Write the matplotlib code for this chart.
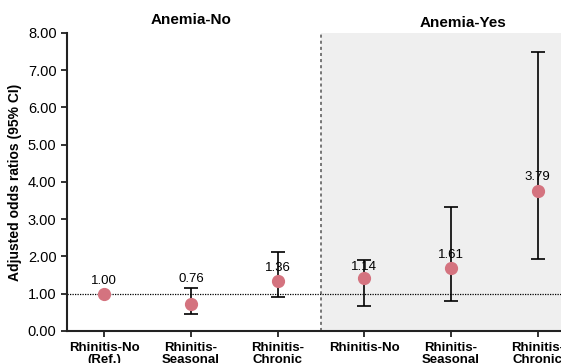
import numpy as np
import matplotlib.pyplot as plt

# Data
categories = ['Rhinitis-No\n(Ref.)', 'Rhinitis-\nSeasonal', 'Rhinitis-\nChronic',
              'Rhinitis-No', 'Rhinitis-\nSeasonal', 'Rhinitis-\nChronic']
point_est = [1.00, 0.73, 1.34, 1.41, 1.68, 3.77]
ci_low = [1.00, 0.46, 0.90, 0.67, 0.80, 1.92]
ci_high = [1.00, 1.16, 2.12, 1.90, 3.32, 7.49]
value_labels = ['1.00', '0.76', '1.36', '1.14', '1.61', '3.79']
group_titles = ['Anemia-No', 'Anemia-Yes']

plt.rcParams['font.family'] = ['Liberation Sans', 'DejaVu Sans']

fig = plt.figure(figsize=(5.61, 3.63), dpi=100)
ax = fig.add_axes([0.1194, 0.0882, 0.8806, 0.8209])

x = np.arange(len(categories))
pe = np.array(point_est)
yerr = np.array([pe - np.array(ci_low), np.array(ci_high) - pe])

# Shaded Anemia-Yes region and separator
ax.axvspan(2.5, 6, color='#efefef', zorder=0)
ax.axvline(2.5, color='#555555', linestyle=(0, (2, 2)), linewidth=1.1, zorder=1)

# Reference line at OR = 1
ax.axhline(1.0, color='black', linestyle=(0, (1, 1)), linewidth=0.9, zorder=2)

# Error bars (skip reference category, which has no CI)
has_ci = np.array(ci_high) > np.array(ci_low)
ax.errorbar(x[has_ci], pe[has_ci], yerr=yerr[:, has_ci], fmt='none',
            ecolor='black', elinewidth=1.2, capsize=5, capthick=1.2, zorder=3)
ax.plot(x, pe, 'o', color='#d4737f', markersize=8.5, zorder=4)

# value labels above the points (0.76 sits above its upper cap)
offsets = [9.5, 18, 9.5, 8, 9.5, 9.5]
for xi, yi, lab, off in zip(x, pe, value_labels, offsets):
    ax.annotate(lab, (xi, yi), xytext=(0, off), textcoords='offset points',
                ha='center', va='center', fontsize=9.5, zorder=5)

ax.set_xlim(-0.43, 5.27)
ax.set_ylim(0, 8)
ax.set_yticks(np.arange(0, 9, 1))
ax.set_yticklabels(['%.2f' % v for v in np.arange(0, 9, 1)], fontsize=10.5)
ax.set_xticks(x)
ax.set_xticklabels(categories, fontsize=9.5, fontweight='bold', linespacing=0.95)
ax.set_ylabel('Adjusted odds ratios (95% CI)', fontsize=10, fontweight='bold', labelpad=4)

for s in ['top', 'right']:
    ax.spines[s].set_visible(False)
for s in ['left', 'bottom']:
    ax.spines[s].set_linewidth(1.5)
    ax.spines[s].set_color('#222222')
ax.tick_params(axis='both', direction='out', length=4, width=1.3, color='#222222')
ax.tick_params(axis='x', pad=4)

# Group titles
ax.text(1.0, 8.35, group_titles[0], ha='center', va='center', fontsize=11, fontweight='bold')
ax.text(4.14, 8.28, group_titles[1], ha='center', va='center', fontsize=11, fontweight='bold')

fig.savefig('out.png', dpi=100)
